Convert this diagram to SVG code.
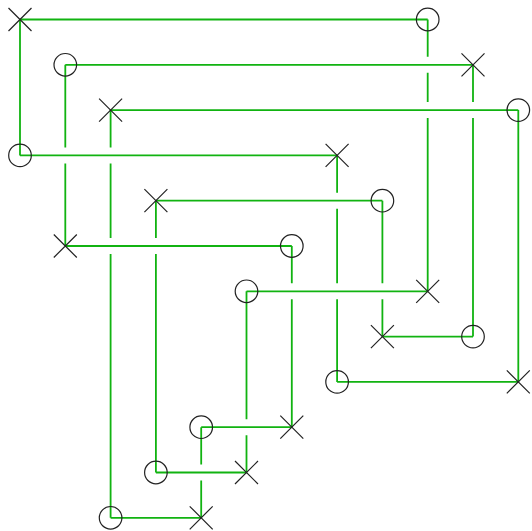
<svg xmlns="http://www.w3.org/2000/svg" xmlns:xlink="http://www.w3.org/1999/xlink" width="532" height="531" viewBox="0 0 532 531">
<style>
.w{stroke:#11b311;stroke-width:1.8;fill:none;stroke-linecap:butt}
.m{stroke:#222;stroke-width:1.2;fill:none}
</style>
<defs>
<circle id="o" r="11.3" class="m"/>
<path id="x" d="M-11.5,-11.5L11.5,11.5M-11.5,11.5L11.5,-11.5" class="m"/>
</defs>
<rect width="532" height="531" fill="#fff"/>
<g id="connectors" class="w">
<path d="M20,19.5H427.7M65.3,64.8H473M110.6,110.1H518.3M20,155.4H337.1M155.9,200.7H382.4M65.3,246H291.8M246.5,291.3H427.7M382.4,336.6H473M337.1,381.9H518.3M201.2,427.2H291.8M155.9,472.5H246.5M110.6,517.8H201.2"/>
<path d="M20,19.5V155.4
M65.3,64.8V147.4M65.3,163.4V246
M110.6,110.1V147.4M110.6,163.4V238M110.6,254V517.8
M155.9,200.7V238M155.9,254V472.5
M201.2,427.2V464.5M201.2,480.5V517.8
M246.5,291.3V419.2M246.5,435.2V472.5
M291.8,246V283.3M291.8,299.3V427.2
M337.1,155.4V192.7M337.1,208.7V283.3M337.1,299.3V381.9
M382.4,200.7V283.3M382.4,299.3V336.6
M427.7,19.5V56.8M427.7,72.8V102.1M427.7,118.1V291.3
M473,64.8V102.1M473,118.1V336.6
M518.3,110.1V381.9"/>
</g>
<g id="n-x0-0"><use xlink:href="#x" x="20" y="19.5"/></g>
<g id="n-o9-0"><use xlink:href="#o" x="427.7" y="19.5"/></g>
<g id="n-o1-1"><use xlink:href="#o" x="65.3" y="64.8"/></g>
<g id="n-x10-1"><use xlink:href="#x" x="473" y="64.8"/></g>
<g id="n-x2-2"><use xlink:href="#x" x="110.6" y="110.1"/></g>
<g id="n-o11-2"><use xlink:href="#o" x="518.3" y="110.1"/></g>
<g id="n-o0-3"><use xlink:href="#o" x="20" y="155.4"/></g>
<g id="n-x7-3"><use xlink:href="#x" x="337.1" y="155.4"/></g>
<g id="n-x3-4"><use xlink:href="#x" x="155.9" y="200.7"/></g>
<g id="n-o8-4"><use xlink:href="#o" x="382.4" y="200.7"/></g>
<g id="n-x1-5"><use xlink:href="#x" x="65.3" y="246"/></g>
<g id="n-o6-5"><use xlink:href="#o" x="291.8" y="246"/></g>
<g id="n-o5-6"><use xlink:href="#o" x="246.5" y="291.3"/></g>
<g id="n-x9-6"><use xlink:href="#x" x="427.7" y="291.3"/></g>
<g id="n-x8-7"><use xlink:href="#x" x="382.4" y="336.6"/></g>
<g id="n-o10-7"><use xlink:href="#o" x="473" y="336.6"/></g>
<g id="n-o7-8"><use xlink:href="#o" x="337.1" y="381.9"/></g>
<g id="n-x11-8"><use xlink:href="#x" x="518.3" y="381.9"/></g>
<g id="n-o4-9"><use xlink:href="#o" x="201.2" y="427.2"/></g>
<g id="n-x6-9"><use xlink:href="#x" x="291.8" y="427.2"/></g>
<g id="n-o3-10"><use xlink:href="#o" x="155.9" y="472.5"/></g>
<g id="n-x5-10"><use xlink:href="#x" x="246.5" y="472.5"/></g>
<g id="n-o2-11"><use xlink:href="#o" x="110.6" y="517.8"/></g>
<g id="n-x4-11"><use xlink:href="#x" x="201.2" y="517.8"/></g>
</svg>
